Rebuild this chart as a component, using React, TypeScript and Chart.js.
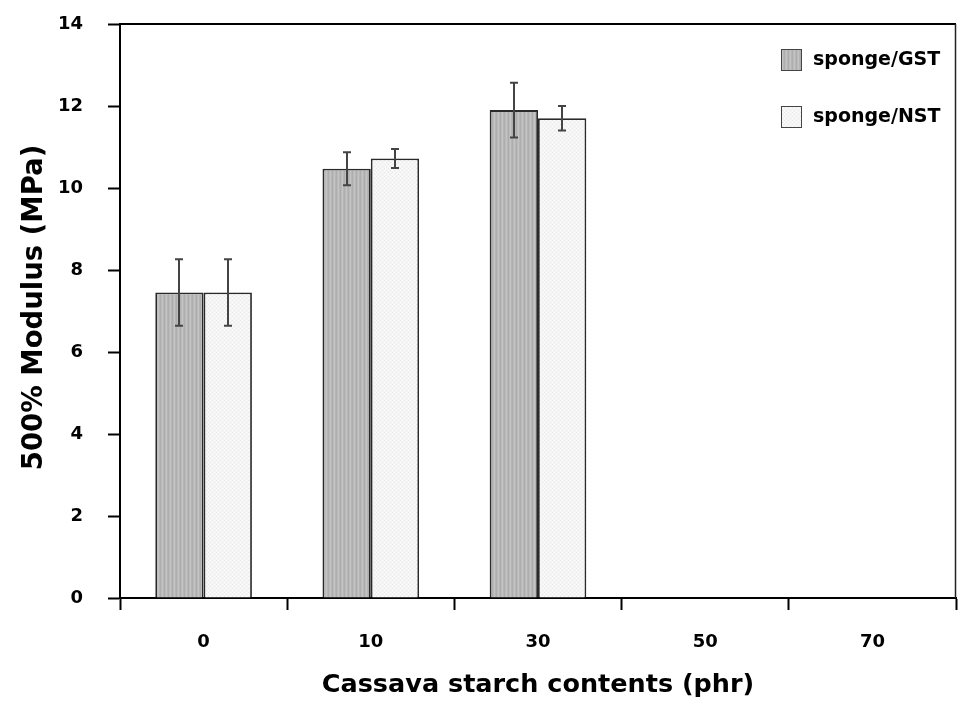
import React, { useEffect, useRef } from "react";
import { Chart, registerables } from "chart.js";

Chart.register(...registerables);

// Starch loading (phr) on the x axis
const categories = ["0", "10", "30", "50", "70"];

// 500% modulus (MPa) and standard deviations per compound
const gstValues = [7.45, 10.47, 11.9, null, null];
const gstErrors = [0.81, 0.4, 0.67, null, null];
const nstValues = [7.45, 10.72, 11.7, null, null];
const nstErrors = [0.81, 0.23, 0.3, null, null];

const seriesLabels = ["sponge/GST", "sponge/NST"];

const yMin = 0;
const yMax = 14;
const yStep = 2;

const xTitle = "Cassava starch contents (phr)";
const yTitle = "500% Modulus (MPa)";

const FONT = '"DejaVu Sans", "Liberation Sans", Arial, sans-serif';

function makeStripePattern(): CanvasPattern | string {
  const c = document.createElement("canvas");
  c.width = 4;
  c.height = 2;
  const g = c.getContext("2d");
  if (!g) return "#b8b8b8";
  const cols = ["#aeaeae", "#bababa", "#c4c4c4", "#b6b6b6"];
  for (let x = 0; x < 4; x++) {
    g.fillStyle = cols[x];
    g.fillRect(x, 0, 1, 2);
  }
  return g.createPattern(c, "repeat") || "#b8b8b8";
}

function makeDotPattern(): CanvasPattern | string {
  const c = document.createElement("canvas");
  c.width = 4;
  c.height = 4;
  const g = c.getContext("2d");
  if (!g) return "#f3f3f3";
  g.fillStyle = "#f5f5f5";
  g.fillRect(0, 0, 4, 4);
  g.fillStyle = "#e9e9e9";
  g.fillRect(0, 0, 1, 1);
  g.fillRect(2, 2, 1, 1);
  g.fillStyle = "#fdfdfd";
  g.fillRect(2, 0, 1, 1);
  g.fillRect(0, 2, 1, 1);
  return g.createPattern(c, "repeat") || "#f3f3f3";
}

// Vertical error bars with short caps, drawn over the bars
const errorBarPlugin = {
  id: "errorBars",
  afterDatasetsDraw(chart: any) {
    const ctx = chart.ctx;
    const yScale = chart.scales.y;
    ctx.save();
    ctx.strokeStyle = "#444";
    ctx.lineWidth = 2;
    chart.data.datasets.forEach((ds: any, di: number) => {
      const meta = chart.getDatasetMeta(di);
      ds.data.forEach((v: number | null, i: number) => {
        const e = ds.errors[i];
        if (v == null || e == null) return;
        const bar = meta.data[i];
        const x = Math.round(bar.x);
        const yt = yScale.getPixelForValue(v + e);
        const yb = yScale.getPixelForValue(v - e);
        ctx.beginPath();
        ctx.moveTo(x, yt);
        ctx.lineTo(x, yb);
        ctx.moveTo(x - 4, yt);
        ctx.lineTo(x + 4, yt);
        ctx.moveTo(x - 4, yb);
        ctx.lineTo(x + 4, yb);
        ctx.stroke();
      });
    });
    ctx.restore();
  },
};

// Frame (top and right edges), axis titles and the in-plot legend
const decorPlugin = {
  id: "decor",
  afterDraw(chart: any) {
    const ctx = chart.ctx;
    const a = chart.chartArea;
    ctx.save();
    ctx.strokeStyle = "#000";
    ctx.lineWidth = 2;
    ctx.beginPath();
    ctx.moveTo(a.left, a.top);
    ctx.lineTo(a.right, a.top);
    ctx.stroke();
    ctx.lineWidth = 1.5;
    ctx.strokeStyle = "#222";
    ctx.beginPath();
    ctx.moveTo(a.right - 0.5, a.top);
    ctx.lineTo(a.right - 0.5, a.bottom);
    ctx.stroke();

    ctx.fillStyle = "#000";
    ctx.font = `bold 25.5px ${FONT}`;
    ctx.textAlign = "center";
    ctx.textBaseline = "alphabetic";
    ctx.fillText(xTitle, (a.left + a.right) / 2, 692);

    ctx.save();
    ctx.translate(42, 307.5);
    ctx.rotate(-Math.PI / 2);
    ctx.font = `bold 27.5px ${FONT}`;
    ctx.fillText(yTitle, 0, 0);
    ctx.restore();

    ctx.font = `bold 19px ${FONT}`;
    ctx.textAlign = "left";
    chart.data.datasets.forEach((ds: any, i: number) => {
      const bx = a.right - 175;
      const by = a.top + 25 + i * 57;
      ctx.fillStyle = ds.backgroundColor;
      ctx.fillRect(bx, by, 20, 21);
      ctx.strokeStyle = "#444";
      ctx.lineWidth = 1;
      ctx.strokeRect(bx + 0.5, by + 0.5, 20, 21);
      ctx.fillStyle = "#000";
      ctx.fillText(ds.label, bx + 32, by + 16);
    });
    ctx.restore();
  },
};

export default function App() {
  const ref = useRef<HTMLCanvasElement | null>(null);

  useEffect(() => {
    if (!ref.current) return;
    const gstFill = makeStripePattern();
    const nstFill = makeDotPattern();
    const chart = new Chart(ref.current, {
      type: "bar",
      data: {
        labels: categories,
        datasets: [
          {
            label: seriesLabels[0],
            data: gstValues,
            errors: gstErrors,
            backgroundColor: gstFill,
            borderColor: "#2a2a2a",
            borderWidth: 1.8,
            categoryPercentage: 0.578,
            barPercentage: 1,
          } as any,
          {
            label: seriesLabels[1],
            data: nstValues,
            errors: nstErrors,
            backgroundColor: nstFill,
            borderColor: "#2a2a2a",
            borderWidth: 1.8,
            categoryPercentage: 0.578,
            barPercentage: 1,
          } as any,
        ],
      },
      options: {
        responsive: false,
        animation: false,
        layout: { padding: { top: 24, right: 2, left: 0, bottom: 0 } },
        plugins: {
          legend: { display: false },
          tooltip: { enabled: false },
        },
        scales: {
          x: {
            offset: true,
            afterFit: (s: any) => {
              s.height = 106;
              s.paddingLeft = 0;
              s.paddingRight = 0;
            },
            grid: {
              offset: true,
              drawOnChartArea: false,
              drawTicks: true,
              tickLength: 12,
              tickWidth: 2,
              tickColor: "#000",
            },
            border: { display: true, color: "#000", width: 2 },
            ticks: {
              color: "#000",
              padding: 22,
              font: { family: FONT, size: 18, weight: "bold" },
            },
          },
          y: {
            min: yMin,
            max: yMax,
            afterFit: (s: any) => {
              s.width = 120;
              s.paddingTop = 0;
              s.paddingBottom = 0;
            },
            grid: {
              drawOnChartArea: false,
              drawTicks: true,
              tickLength: 12,
              tickWidth: 2,
              tickColor: "#000",
            },
            border: { display: true, color: "#000", width: 2 },
            ticks: {
              stepSize: yStep,
              color: "#000",
              padding: 25,
              font: { family: FONT, size: 18, weight: "bold" },
            },
          },
        },
      } as any,
      plugins: [errorBarPlugin, decorPlugin],
    });
    return () => chart.destroy();
  }, []);

  return (
    <div style={{ position: "fixed", left: 0, top: 0, width: 958, height: 704, background: "#fff" }}>
      <canvas ref={ref} width={958} height={704} style={{ display: "block" }} />
    </div>
  );
}
